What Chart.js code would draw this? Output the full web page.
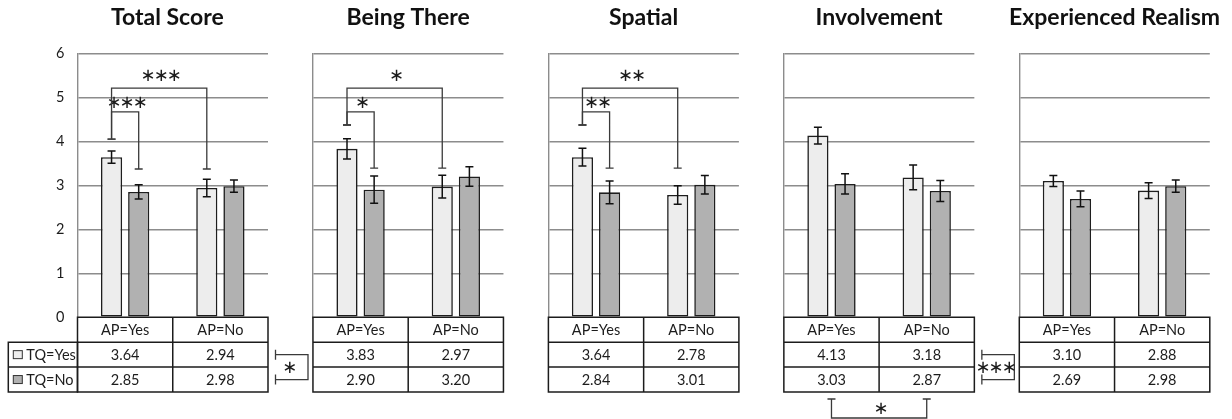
<!DOCTYPE html>
<html>
<head>
<meta charset="utf-8">
<script src="https://cdn.jsdelivr.net/npm/chart.js@4.4.1/dist/chart.umd.min.js"></script>
<style>
  html, body { margin: 0; padding: 0; background: #ffffff; }
  #wrap { position: relative; width: 1232px; height: 419px; overflow: hidden; background: #ffffff; }
  #wrap canvas { position: absolute; left: 0; top: 0; }
</style>
</head>
<body>
<div id="wrap"></div>
<script>
// ---- data ----
const apLevels = ['AP=Yes', 'AP=No'];
const tqLevels = ['TQ=Yes', 'TQ=No'];
const measures = ['Total Score', 'Being There', 'Spatial', 'Involvement', 'Experienced Realism'];
const yTicks = [0, 1, 2, 3, 4, 5, 6];

// mean scores per measure, ordered [AP=Yes, AP=No]
const tqYesMeans = [[3.64, 2.94], [3.83, 2.97], [3.64, 2.78], [4.13, 3.18], [3.10, 2.88]];
const tqNoMeans  = [[2.85, 2.98], [2.90, 3.20], [2.84, 3.01], [3.03, 2.87], [2.69, 2.98]];

// standard errors, same order
const tqYesErr = [[0.14, 0.20], [0.23, 0.26], [0.20, 0.21], [0.19, 0.28], [0.125, 0.18]];
const tqNoErr  = [[0.16, 0.14], [0.31, 0.22], [0.26, 0.21], [0.23, 0.24], [0.18, 0.14]];

// pairwise comparisons; bars given as [tq, ap], levels in score units
const pairTests = [
  { panel: 0, a: [0, 0], b: [1, 0], level: 4.67, aEnd: 4.05, bEnd: 3.37, text: '∗∗∗', textAt: 4.86 },
  { panel: 0, a: [0, 0], b: [0, 1], level: 5.21, aEnd: 4.05, bEnd: 3.37, text: '∗∗∗', textAt: 5.47 },
  { panel: 1, a: [0, 0], b: [1, 0], level: 4.67, aEnd: 4.37, bEnd: 3.39, text: '∗',   textAt: 4.86 },
  { panel: 1, a: [0, 0], b: [0, 1], level: 5.21, aEnd: 4.37, bEnd: 3.39, text: '∗',   textAt: 5.47 },
  { panel: 2, a: [0, 0], b: [1, 0], level: 4.67, aEnd: 4.37, bEnd: 3.39, text: '∗∗',  textAt: 4.86 },
  { panel: 2, a: [0, 0], b: [0, 1], level: 5.21, aEnd: 4.37, bEnd: 3.39, text: '∗∗',  textAt: 5.47 }
];

// main effects marked beside (TQ) or below (AP) the value tables
const mainEffects = [
  { panel: 0, factor: 'TQ', text: '∗' },
  { panel: 3, factor: 'TQ', text: '∗∗∗' },
  { panel: 3, factor: 'AP', text: '∗' }
];

// ---- styling ----
const W = 1232, H = 419;
const FONT = 'Lato, "Open Sans", sans-serif';
const STAR_FONT = '"DejaVu Sans", sans-serif';
const fills = ['#ededed', '#b1b1b1'];
const ink = '#1c1c1c';
const gridGray = '#8c8c8c';
const plotLeft0 = 77.5, plotStep = 235.45, plotWidth = 190.5;
const plotTop = 53.3, plotBottom = 317.3;
const rowH = 24.9;
const legendLeft = 8.3;
const titleSize = 23;

function drawStars(ctx, text, x, y) {
  ctx.save();
  ctx.font = '18px ' + STAR_FONT;
  ctx.letterSpacing = '-2px';
  ctx.textAlign = 'center';
  ctx.textBaseline = 'middle';
  ctx.fillStyle = ink;
  ctx.fillText(text, x + 1, y);
  ctx.restore();
}

const panelDecor = {
  id: 'panelDecor',
  afterDatasetsDraw(chart, args, opts) {
    const ctx = chart.ctx;
    const y = chart.scales.y;
    ctx.save();
    ctx.strokeStyle = '#111';
    ctx.lineWidth = 1.5;
    chart.data.datasets.forEach((ds, di) => {
      const meta = chart.getDatasetMeta(di);
      meta.data.forEach((bar, i) => {
        const e = ds.errors[i];
        const yt = y.getPixelForValue(ds.data[i] + e);
        const yb = y.getPixelForValue(ds.data[i] - e);
        const cx = bar.x, cap = 4;
        ctx.beginPath();
        ctx.moveTo(cx, yt); ctx.lineTo(cx, yb);
        ctx.moveTo(cx - cap, yt); ctx.lineTo(cx + cap, yt);
        ctx.moveTo(cx - cap, yb); ctx.lineTo(cx + cap, yb);
        ctx.stroke();
      });
    });

    // pairwise brackets above the bars
    ctx.strokeStyle = '#3a3a3a';
    ctx.lineWidth = 1.3;
    pairTests.filter(t => t.panel === opts.panel).forEach(t => {
      const xa = chart.getDatasetMeta(t.a[0]).data[t.a[1]].x;
      const xb = chart.getDatasetMeta(t.b[0]).data[t.b[1]].x;
      const yl = y.getPixelForValue(t.level);
      const ya = y.getPixelForValue(t.aEnd);
      const yb = y.getPixelForValue(t.bEnd);
      ctx.beginPath();
      ctx.moveTo(xa, ya); ctx.lineTo(xa, yl); ctx.lineTo(xb, yl); ctx.lineTo(xb, yb);
      ctx.moveTo(xa - 4, ya); ctx.lineTo(xa + 4, ya);
      ctx.moveTo(xb - 4, yb); ctx.lineTo(xb + 4, yb);
      ctx.stroke();
      drawStars(ctx, t.text, (xa + xb) / 2, y.getPixelForValue(t.textAt));
    });
    ctx.restore();
  },
  afterDraw(chart, args, opts) {
    const ctx = chart.ctx;
    const x = chart.scales.x;
    const area = chart.chartArea;
    const top = area.bottom;
    const mid = (x.getPixelForValue(0) + x.getPixelForValue(1)) / 2;
    ctx.save();
    ctx.strokeStyle = ink;
    ctx.lineWidth = 1.5;
    ctx.fillStyle = '#ffffff';
    ctx.fillRect(area.left, top, area.right - area.left, 3 * rowH);

    // value table under the bars
    ctx.beginPath();
    ctx.rect(area.left, top, area.right - area.left, 3 * rowH);
    ctx.moveTo(area.left, top + rowH); ctx.lineTo(area.right, top + rowH);
    ctx.moveTo(area.left, top + 2 * rowH); ctx.lineTo(area.right, top + 2 * rowH);
    ctx.moveTo(mid, top); ctx.lineTo(mid, top + 3 * rowH);
    ctx.stroke();

    ctx.fillStyle = ink;
    ctx.font = '14.5px ' + FONT;
    ctx.textAlign = 'center';
    ctx.textBaseline = 'middle';
    chart.data.labels.forEach((lab, i) => {
      const cx = x.getPixelForValue(i);
      ctx.fillText(lab, cx, top + rowH / 2 + 1);
      chart.data.datasets.forEach((ds, di) => {
        ctx.fillText(ds.data[i].toFixed(2), cx, top + rowH * (di + 1.5) + 1);
      });
    });

    // row legend, first panel only
    if (opts.panel === 0) {
      ctx.beginPath();
      ctx.rect(legendLeft, top + rowH, area.left - legendLeft, 2 * rowH);
      ctx.moveTo(legendLeft, top + 2 * rowH); ctx.lineTo(area.left, top + 2 * rowH);
      ctx.stroke();
      chart.data.datasets.forEach((ds, di) => {
        const cy = top + rowH * (di + 1.5);
        ctx.fillStyle = ds.backgroundColor;
        ctx.fillRect(legendLeft + 5, cy - 4, 9, 8);
        ctx.lineWidth = 1;
        ctx.strokeStyle = '#333';
        ctx.strokeRect(legendLeft + 5, cy - 4, 9, 8);
        ctx.fillStyle = ink;
        ctx.textAlign = 'left';
        ctx.fillText(ds.label, legendLeft + 18, cy + 1);
      });
    }

    // main-effect brackets
    ctx.strokeStyle = '#3a3a3a';
    ctx.lineWidth = 1.3;
    mainEffects.filter(m => m.panel === opts.panel).forEach(m => {
      ctx.beginPath();
      if (m.factor === 'TQ') {
        const x0 = area.right + 7.5, x1 = area.right + 40;
        const r1 = top + 1.5 * rowH, r2 = top + 2.5 * rowH;
        ctx.moveTo(x0, r1); ctx.lineTo(x1, r1); ctx.lineTo(x1, r2); ctx.lineTo(x0, r2);
        ctx.moveTo(x0, r1 - 5); ctx.lineTo(x0, r1 + 5);
        ctx.moveTo(x0, r2 - 5); ctx.lineTo(x0, r2 + 5);
        ctx.stroke();
        drawStars(ctx, m.text, (x0 + x1) / 2 - 4, (r1 + r2) / 2 + 1);
      } else {
        const xa = x.getPixelForValue(0), xb = x.getPixelForValue(1);
        const yc = top + 3 * rowH + 7, yb = H - 1;
        ctx.moveTo(xa, yc); ctx.lineTo(xa, yb); ctx.lineTo(xb, yb); ctx.lineTo(xb, yc);
        ctx.moveTo(xa - 4, yc); ctx.lineTo(xa + 4, yc);
        ctx.moveTo(xb - 4, yc); ctx.lineTo(xb + 4, yc);
        ctx.stroke();
        drawStars(ctx, m.text, (xa + xb) / 2, (yc + yb) / 2 + 1);
      }
    });
    ctx.restore();
  }
};

const wrap = document.getElementById('wrap');
measures.forEach((name, p) => {
  const canvas = document.createElement('canvas');
  canvas.width = W; canvas.height = H;
  canvas.style.width = W + 'px'; canvas.style.height = H + 'px';
  wrap.appendChild(canvas);
  const left = plotLeft0 + p * plotStep;
  // side margins kept inside each chart so the titles have room to sit centred
  const axisW = p === 0 ? 10.8 : 12;
  const sideW = p === 0 ? 0 : 12;
  new Chart(canvas, {
    type: 'bar',
    data: {
      labels: apLevels,
      datasets: [
        { label: tqLevels[0], data: tqYesMeans[p], errors: tqYesErr[p], backgroundColor: fills[0] },
        { label: tqLevels[1], data: tqNoMeans[p],  errors: tqNoErr[p],  backgroundColor: fills[1] }
      ]
    },
    options: {
      responsive: false,
      animation: false,
      devicePixelRatio: 1,
      layout: {
        padding: { left: left - axisW, right: W - left - plotWidth - sideW, top: 0, bottom: H - plotBottom }
      },
      datasets: {
        bar: {
          borderColor: '#1e1e1e',
          borderWidth: 1.6,
          borderSkipped: false,
          categoryPercentage: 0.57,
          barPercentage: 0.78
        }
      },
      scales: {
        x: { display: false },
        y: {
          min: 0, max: 6,
          afterBuildTicks: s => { s.ticks = yTicks.map(v => ({ value: v })); },
          afterFit: s => { s.width = axisW; },
          // labels sit in the margin left of the plot
          ticks: { display: p === 0, mirror: true, padding: -21.5, color: ink, font: { family: FONT, size: 14.5 } },
          grid: { color: gridGray, lineWidth: 1.4, drawTicks: false },
          border: { display: true, color: gridGray, width: 1.4 }
        },
        yRight: {
          position: 'right',
          min: 0, max: 6,
          afterFit: s => { s.width = sideW; },
          ticks: { display: false },
          grid: { display: false },
          border: { display: false }
        }
      },
      plugins: {
        legend: { display: false },
        tooltip: { enabled: false },
        title: {
          display: true,
          text: name,
          color: '#111',
          font: { family: FONT, size: titleSize, weight: 'bold', lineHeight: 1.2 },
          padding: { top: 18 - titleSize * 0.6, bottom: plotTop - 18 - titleSize * 0.6 }
        },
        panelDecor: { panel: p }
      }
    },
    plugins: [panelDecor]
  });
});
</script>
</body>
</html>
